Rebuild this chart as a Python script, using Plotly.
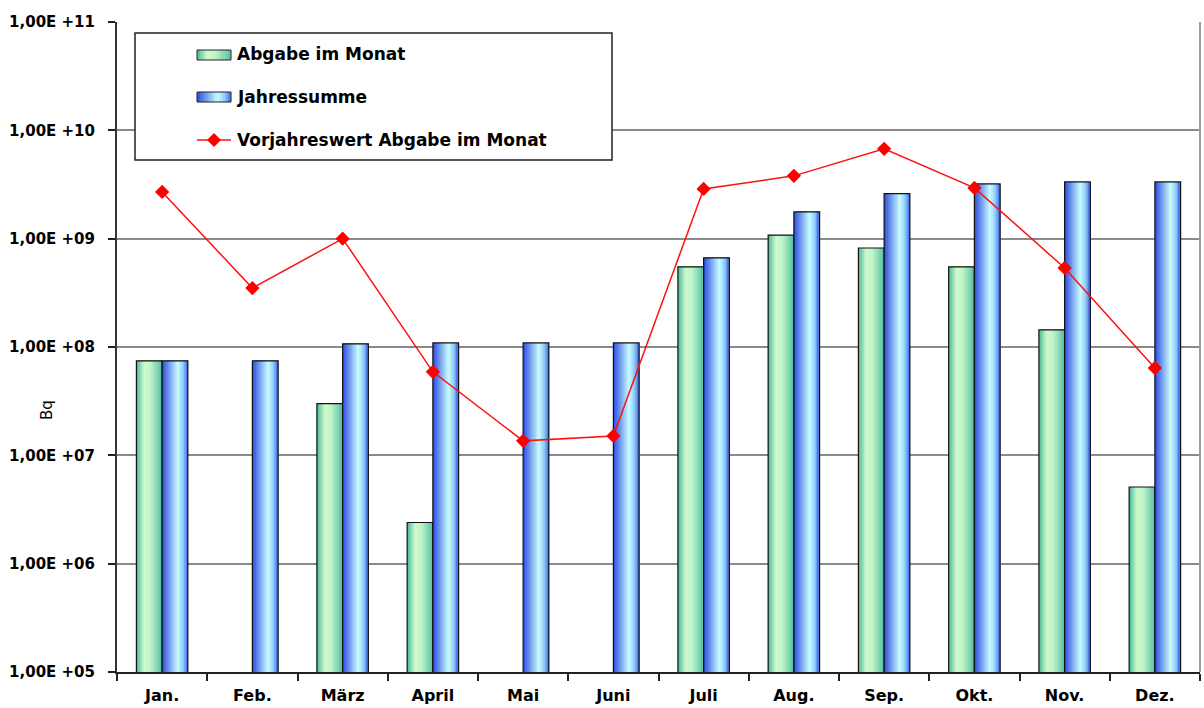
import plotly.graph_objects as go

# ---------------- data ----------------
months = ["Jan.", "Feb.", "März", "April", "Mai", "Juni", "Juli", "Aug.", "Sep.", "Okt.", "Nov.", "Dez."]
abgabe_monat = [7.45e7, None, 3.0e7, 2.4e6, None, None, 5.5e8, 1.08e9, 8.2e8, 5.5e8, 1.44e8, 5.1e6]
jahressumme = [7.45e7, 7.45e7, 1.07e8, 1.09e8, 1.09e8, 1.09e8, 6.65e8, 1.77e9, 2.6e9, 3.2e9, 3.34e9, 3.34e9]
vorjahr_monat = [2.7e9, 3.5e8, 1.0e9, 5.9e7, 1.36e7, 1.51e7, 2.88e9, 3.8e9, 6.75e9, 2.94e9, 5.37e8, 6.4e7]
tick_vals = [1e5, 1e6, 1e7, 1e8, 1e9, 1e10, 1e11]
tick_text = ["1,00E +05", "1,00E +06", "1,00E +07", "1,00E +08", "1,00E +09", "1,00E +10", "1,00E +11"]
legend_names = ["Abgabe im Monat", "Jahressumme", "Vorjahreswert Abgabe im Monat"]

# ---------------- style ----------------
W, H = 1204, 708
ML, MR, MT, MB = 117, 4, 22, 36
PW, PH = W - ML - MR, H - MT - MB
FONT = "DejaVu Sans"

green_stops = [(0.0, (72, 184, 152)), (0.3, (206, 250, 206)), (0.55, (192, 244, 200)), (1.0, (84, 192, 164))]
blue_stops = [(0.0, (44, 76, 226)), (0.6, (200, 252, 255)), (0.8, (150, 210, 252)), (1.0, (64, 104, 230))]


def interp(stops, t):
    for (t0, c0), (t1, c1) in zip(stops, stops[1:]):
        if t0 <= t <= t1:
            f = (t - t0) / (t1 - t0) if t1 > t0 else 0
            c = [round(a + (b - a) * f) for a, b in zip(c0, c1)]
            return "rgb(%d,%d,%d)" % tuple(c)
    c = stops[-1][1]
    return "rgb(%d,%d,%d)" % c


N = 14
BW = 0.285

fig = go.Figure()


def gradient_bars(values, offset, stops):
    for i in range(N):
        t = (i + 0.5) / N
        fig.add_trace(go.Bar(
            x=months, y=values,
            width=BW - i * BW / N, offset=offset + i * BW / N,
            marker=dict(color=interp(stops, t), line=dict(width=0)),
            showlegend=False, hoverinfo="skip"))
    fig.add_trace(go.Bar(
        x=months, y=values, width=BW, offset=offset,
        marker=dict(color="rgba(0,0,0,0)", line=dict(color="#111111", width=1.2)),
        showlegend=False, name=""))


gradient_bars(abgabe_monat, -BW, green_stops)
gradient_bars(jahressumme, 0.0, blue_stops)

fig.add_trace(go.Scatter(
    x=months, y=vorjahr_monat, mode="lines+markers",
    line=dict(color="#FF1010", width=1.5),
    marker=dict(symbol="diamond", size=11, color="#FF0000"),
    showlegend=False, name=legend_names[2]))


def px(x):
    return (x - ML) / PW


def py(y):
    return (H - MB - y) / PH


shapes = []
annotations = []

# right border
shapes.append(dict(type="line", xref="paper", yref="paper", x0=1, x1=1, y0=0, y1=1,
                   line=dict(color="#A0A0A0", width=2)))

# legend box
shapes.append(dict(type="rect", xref="paper", yref="paper",
                   x0=px(135), x1=px(612), y0=py(160), y1=py(33),
                   fillcolor="white", line=dict(color="#222222", width=1.5), layer="above"))


def swatch(yc, stops):
    x0, x1 = 197, 231
    n = 12
    for i in range(n):
        t = (i + 0.5) / n
        shapes.append(dict(type="rect", xref="paper", yref="paper",
                           x0=px(x0 + (x1 - x0) * i / n), x1=px(x1), y0=py(yc + 5), y1=py(yc - 5),
                           fillcolor=interp(stops, t), line=dict(width=0), layer="above"))
    shapes.append(dict(type="rect", xref="paper", yref="paper",
                       x0=px(x0), x1=px(x1), y0=py(yc + 5), y1=py(yc - 5),
                       fillcolor="rgba(0,0,0,0)", line=dict(color="#222222", width=1), layer="above"))


swatch(55, green_stops)
swatch(97, blue_stops)
shapes.append(dict(type="line", xref="paper", yref="paper", x0=px(197), x1=px(231), y0=py(140), y1=py(140),
                   line=dict(color="#FF1010", width=1.5), layer="above"))
dx, dy = 7 / PW, 7 / PH
cx, cy = px(214), py(140)
shapes.append(dict(type="path", xref="paper", yref="paper",
                   path="M %f %f L %f %f L %f %f L %f %f Z" % (cx - dx, cy, cx, cy + dy, cx + dx, cy, cx, cy - dy),
                   fillcolor="#FF0000", line=dict(width=0), layer="above"))

for name, yc in zip(legend_names, [54, 97, 140]):
    annotations.append(dict(xref="paper", yref="paper", x=px(235), y=py(yc), text=name,
                            showarrow=False, xanchor="left", yanchor="middle",
                            font=dict(family=FONT, size=17, color="#000000", weight="bold")))

annotations.append(dict(xref="paper", yref="paper", x=px(47), y=py(410), text="Bq", textangle=-90,
                        showarrow=False, xanchor="center", yanchor="middle",
                        font=dict(family=FONT, size=15, color="#000000")))

fig.update_layout(
    width=W, height=H,
    margin=dict(l=ML, r=MR, t=MT, b=MB, pad=0, autoexpand=False),
    paper_bgcolor="white", plot_bgcolor="white",
    barmode="overlay", showlegend=False,
    shapes=shapes, annotations=annotations,
    xaxis=dict(type="category", range=[-0.5, len(months) - 0.5], tickson="boundaries",
               ticks="outside", ticklen=7, tickwidth=1.5,
               tickcolor="#222222", showline=True, linecolor="#222222", linewidth=2, automargin=False,
               ticklabelstandoff=8,
               showgrid=False, tickfont=dict(family=FONT, size=16, color="#000000", weight="bold")),
    yaxis=dict(type="log", range=[5, 11], tickvals=tick_vals, ticktext=tick_text, automargin=False,
               ticks="outside", ticklen=7, tickwidth=1.5, tickcolor="#222222",
               ticklabelstandoff=10,
               showline=True, linecolor="#333333", linewidth=2,
               showgrid=True, gridcolor="#8A8A8A", gridwidth=2,
               tickfont=dict(family=FONT, size=15, color="#000000", weight="bold")),
)

fig.write_html("out.html", config={"displayModeBar": False},
               post_script="document.body.style.margin='0';document.body.style.overflow='hidden';")
